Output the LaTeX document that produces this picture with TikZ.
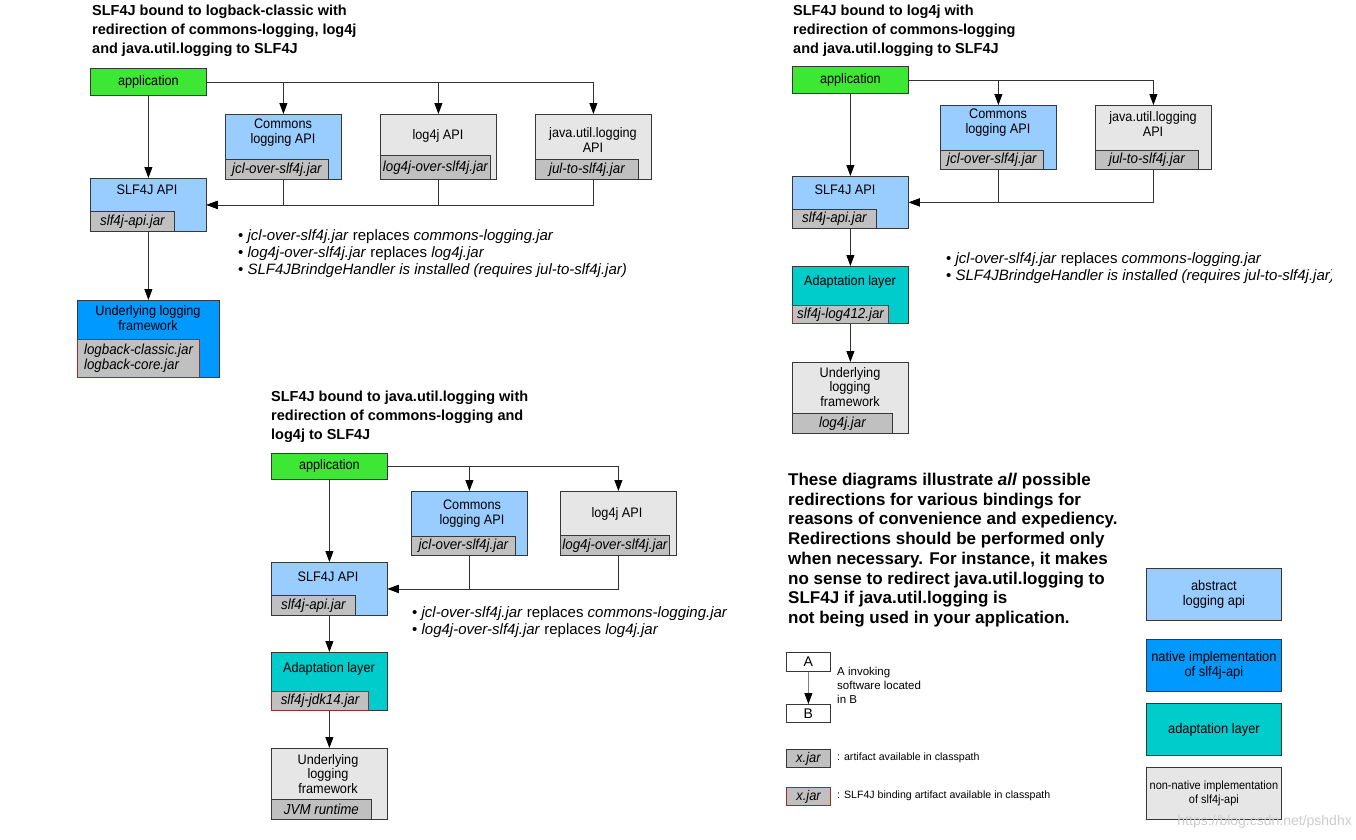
\documentclass[tikz,border=0pt]{standalone}
\usepackage{fontspec}
\setmainfont{Liberation Sans}
\newfontfamily\nf[FakeStretch=0.92]{Liberation Sans}
\usetikzlibrary{arrows.meta}
\definecolor{cgreen}{RGB}{60,232,52}
\definecolor{cltblue}{RGB}{153,204,255}
\definecolor{cblue}{RGB}{0,153,255}
\definecolor{cteal}{RGB}{0,204,204}
\definecolor{cltgray}{RGB}{230,230,230}
\definecolor{cjar}{RGB}{192,192,192}
\definecolor{cred}{RGB}{150,45,45}
\definecolor{cborder}{RGB}{55,55,55}
\definecolor{cline}{RGB}{50,50,50}
\definecolor{cwm}{RGB}{205,205,205}
\tikzset{
  box/.style={draw=cborder, line width=0.8pt, inner sep=0pt, anchor=north west, rectangle},
  jar/.style={draw=cborder, fill=cjar, line width=0.8pt, inner sep=0pt, anchor=south west, align=center,
    font=\nf\fontsize{14.5}{15}\selectfont\itshape},
  redjar/.style={jar, draw=cred, line width=1.1pt},
  lbl/.style={font=\nf\fontsize{13.8}{14.8}\selectfont, align=center, inner sep=0pt},
  ttl/.style={font=\fontsize{14.5}{19}\selectfont\bfseries, align=left, inner sep=0pt, anchor=north west},
  bul/.style={font=\fontsize{15}{17}\selectfont, inner sep=0pt, anchor=west},
  arr/.style={draw=cline, line width=0.8pt, -{Triangle[length=11pt,width=8pt,color=black]}},
  small/.style={font=\fontsize{11.5}{14}\selectfont, inner sep=0pt, align=left},
  legbox/.style={box, minimum width=135pt, minimum height=52pt, align=center, font=\nf\fontsize{14}{15}\selectfont},
}
\begin{document}
\begin{tikzpicture}[x=1pt,y=-1pt]
\useasboundingbox[fill=white] (0,0) rectangle (1356,839);

% ===================== Top-left diagram =====================
\node[ttl] (t1) at (92,5) {SLF4J bound to logback-classic with\\redirection of commons-logging, log4j\\and java.util.logging to SLF4J};

\node[box, fill=cgreen, minimum width=116pt, minimum height=27pt] (app1) at (90,68) {};
\node[lbl] (app1t) at (app1.center) {application};

\node[box, fill=cltblue, minimum width=116pt, minimum height=65pt] (cl1) at (225,114) {};
\node[lbl] (cl1t) at (283,133) {Commons\\logging API};
\node[jar, minimum width=103pt, minimum height=20pt] (cl1j) at (cl1.south west) {jcl-over-slf4j.jar};

\node[box, fill=cltgray, minimum width=116pt, minimum height=65pt] (l4j1) at (380,114) {};
\node[lbl] (l4j1t) at (438,136) {log4j API};
\node[jar, minimum width=110pt, minimum height=24pt] (l4j1j) at (l4j1.south west) {log4j-over-slf4j.jar};

\node[box, fill=cltgray, minimum width=116pt, minimum height=65pt] (jul1) at (535,114) {};
\node[lbl] (jul1t) at (593,140) {java.util.logging\\API};
\node[jar, minimum width=103pt, minimum height=20pt] (jul1j) at (jul1.south west) {jul-to-slf4j.jar};

\node[box, fill=cltblue, minimum width=116pt, minimum height=53pt] (api1) at (90,178) {};
\node[lbl] (api1t) at (147,190) {SLF4J API};
\node[jar, minimum width=84pt, minimum height=20pt] (api1j) at (api1.south west) {slf4j-api.jar};

\node[box, fill=cblue, minimum width=142pt, minimum height=77pt] (und1) at (77,300) {};
\node[lbl] (und1t) at (148,318) {Underlying logging\\framework};
\node[redjar, minimum width=122pt, minimum height=38pt, align=left] (und1j) at (und1.south west) {logback-classic.jar\\logback-core.jar};

\draw[arr] (app1.south) -- (api1.north);
\draw[arr] (app1.east) -| (cl1.north);
\draw[arr] (app1.east) -| (l4j1.north);
\draw[arr] (app1.east) -| (jul1.north);
\draw[arr] (cl1.south) |- (api1.east);
\draw[arr] (l4j1.south) |- (api1.east);
\draw[arr] (jul1.south) |- (api1.east);
\draw[arr] (api1.south) -- (und1.north);

\node[bul] (b11) at (238,237) {\textbullet\ \textit{jcl-over-slf4j.jar} replaces \textit{commons-logging.jar}};
\node[bul] (b12) at (238,254) {\textbullet\ \textit{log4j-over-slf4j.jar} replaces \textit{log4j.jar}};
\node[bul] (b13) at (238,271) {\textbullet\ \textit{SLF4JBrindgeHandler is installed (requires jul-to-slf4j.jar)}};

% ===================== Top-right diagram =====================
\node[ttl] (t2) at (793,5) {SLF4J bound to log4j with\\redirection of commons-logging\\and java.util.logging to SLF4J};

\node[box, fill=cgreen, minimum width=116pt, minimum height=27pt] (app2) at (792,66) {};
\node[lbl] (app2t) at (app2.center) {application};

\node[box, fill=cltblue, minimum width=116pt, minimum height=64pt] (cl2) at (940,105) {};
\node[lbl] (cl2t) at (998,123) {Commons\\logging API};
\node[jar, minimum width=103pt, minimum height=19pt] (cl2j) at (cl2.south west) {jcl-over-slf4j.jar};

\node[box, fill=cltgray, minimum width=116pt, minimum height=64pt] (jul2) at (1095,105) {};
\node[lbl] (jul2t) at (1153,124) {java.util.logging\\API};
\node[jar, minimum width=103pt, minimum height=19pt] (jul2j) at (jul2.south west) {jul-to-slf4j.jar};

\node[box, fill=cltblue, minimum width=116pt, minimum height=52pt] (api2) at (792,176) {};
\node[lbl] (api2t) at (845,190) {SLF4J API};
\node[jar, minimum width=84pt, minimum height=19pt] (api2j) at (api2.south west) {slf4j-api.jar};

\node[box, fill=cteal, minimum width=116pt, minimum height=57pt] (ad2) at (792,266) {};
\node[lbl] (ad2t) at (850,282) {Adaptation layer};
\node[redjar, minimum width=96pt, minimum height=18pt] (ad2j) at (ad2.south west) {slf4j-log412.jar};

\node[box, fill=cltgray, minimum width=116pt, minimum height=71pt] (und2) at (792,362) {};
\node[lbl] (und2t) at (850,387) {Underlying\\logging\\framework};
\node[jar, minimum width=100pt, minimum height=20pt] (und2j) at (und2.south west) {log4j.jar};

\draw[arr] (app2.south) -- (api2.north);
\draw[arr] (app2.east) -| (cl2.north);
\draw[arr] (app2.east) -| (jul2.north);
\draw[arr] (cl2.south) |- (api2.east);
\draw[arr] (jul2.south) |- (api2.east);
\draw[arr] (api2.south) -- (ad2.north);
\draw[arr] (ad2.south) -- (und2.north);

\node[bul] (b21) at (946,260) {\textbullet\ \textit{jcl-over-slf4j.jar} replaces \textit{commons-logging.jar}};
\begin{scope}
\clip (900,266) rectangle (1331,292);
\node[bul] (b22) at (946,277) {\textbullet\ \textit{SLF4JBrindgeHandler is installed (requires jul-to-slf4j.jar)}};
\end{scope}

% ===================== Bottom diagram =====================
\node[ttl] (t3) at (271,391) {SLF4J bound to java.util.logging with\\redirection of commons-logging and\\log4j to SLF4J};

\node[box, fill=cgreen, minimum width=116pt, minimum height=26pt] (app3) at (271,453) {};
\node[lbl] (app3t) at (app3.center) {application};

\node[box, fill=cltblue, minimum width=116pt, minimum height=64pt] (cl3) at (411,491) {};
\node[lbl] (cl3t) at (472,514) {Commons\\logging API};
\node[jar, minimum width=104pt, minimum height=19pt] (cl3j) at (cl3.south west) {jcl-over-slf4j.jar};

\node[box, fill=cltgray, minimum width=116pt, minimum height=64pt] (l4j3) at (560,491) {};
\node[lbl] (l4j3t) at (617,514) {log4j API};
\node[jar, minimum width=109pt, minimum height=20pt] (l4j3j) at (l4j3.south west) {log4j-over-slf4j.jar};

\node[box, fill=cltblue, minimum width=116pt, minimum height=53pt] (api3) at (271,562) {};
\node[lbl] (api3t) at (328,577) {SLF4J API};
\node[jar, minimum width=84pt, minimum height=20pt] (api3j) at (api3.south west) {slf4j-api.jar};

\node[box, fill=cteal, minimum width=116pt, minimum height=58pt] (ad3) at (271,652) {};
\node[lbl] (ad3t) at (329,669) {Adaptation layer};
\node[redjar, minimum width=97pt, minimum height=19pt] (ad3j) at (ad3.south west) {slf4j-jdk14.jar};

\node[box, fill=cltgray, minimum width=116pt, minimum height=71pt] (und3) at (271,748) {};
\node[lbl] (und3t) at (328,774) {Underlying\\logging\\framework};
\node[jar, minimum width=100pt, minimum height=20pt] (und3j) at (und3.south west) {JVM runtime};

\draw[arr] (app3.south) -- (api3.north);
\draw[arr] (app3.east) -| (cl3.north);
\draw[arr] (app3.east) -| (l4j3.north);
\draw[arr] (cl3.south) |- (api3.east);
\draw[arr] (l4j3.south) |- (api3.east);
\draw[arr] (api3.south) -- (ad3.north);
\draw[arr] (ad3.south) -- (und3.north);

\node[bul] (b31) at (412,614) {\textbullet\ \textit{jcl-over-slf4j.jar} replaces \textit{commons-logging.jar}};
\node[bul] (b32) at (412,631) {\textbullet\ \textit{log4j-over-slf4j.jar} replaces \textit{log4j.jar}};

% ===================== Legend =====================
\node[font=\fontsize{17}{19.7}\selectfont\bfseries, align=left, inner sep=0pt, anchor=north west] (note) at (788,473)
 {These diagrams illustrate \textit{all} possible\\
  redirections for various bindings for\\
  reasons of convenience and expediency.\\
  Redirections should be performed only\\
  when necessary. For instance, it makes\\
  no sense to redirect java.util.logging to\\
  SLF4J if java.util.logging is\\
  not being used in your application.};

\node[box, fill=white, minimum width=44pt, minimum height=19pt, font=\fontsize{14}{15}\selectfont] (la) at (786,652) {A};
\node[box, fill=white, minimum width=44pt, minimum height=18pt, font=\fontsize{14}{15}\selectfont] (lb) at (786,704) {B};
\draw[arr, draw=gray] (la.south) -- (lb.north);
\node[small, anchor=north west] (lat) at (837,667) {A invoking\\software located\\in B};

\node[jar, anchor=north west, minimum width=44pt, minimum height=18pt, font=\nf\fontsize{14}{15}\selectfont\itshape] (lj1) at (786,749) {x.jar};
\node[small, anchor=west, font=\fontsize{10.6}{12}\selectfont] (lj1t) at (837,758) {: artifact available in classpath};
\node[redjar, anchor=north west, minimum width=44pt, minimum height=18pt, font=\nf\fontsize{14}{15}\selectfont\itshape] (lj2) at (786,787) {x.jar};
\node[small, anchor=west, font=\fontsize{10.6}{12}\selectfont] (lj2t) at (837,796) {: SLF4J binding artifact available in classpath};

\node[legbox, fill=cltblue] (lg1) at (1146,568) {abstract\\logging api};
\node[legbox, fill=cblue] (lg2) at (1146,639) {native implementation\\of slf4j-api};
\node[legbox, fill=cteal] (lg3) at (1146,703) {adaptation layer};
\node[legbox, fill=cltgray, font=\nf\fontsize{11.9}{13.5}\selectfont] (lg4) at (1146,767) {non-native implementation\\of slf4j-api};

\node[font=\fontsize{14}{15}\selectfont, text=cwm, anchor=east, inner sep=0pt] (wm) at (1352,822) {https://blog.csdn.net/pshdhx};
\end{tikzpicture}
\end{document}
